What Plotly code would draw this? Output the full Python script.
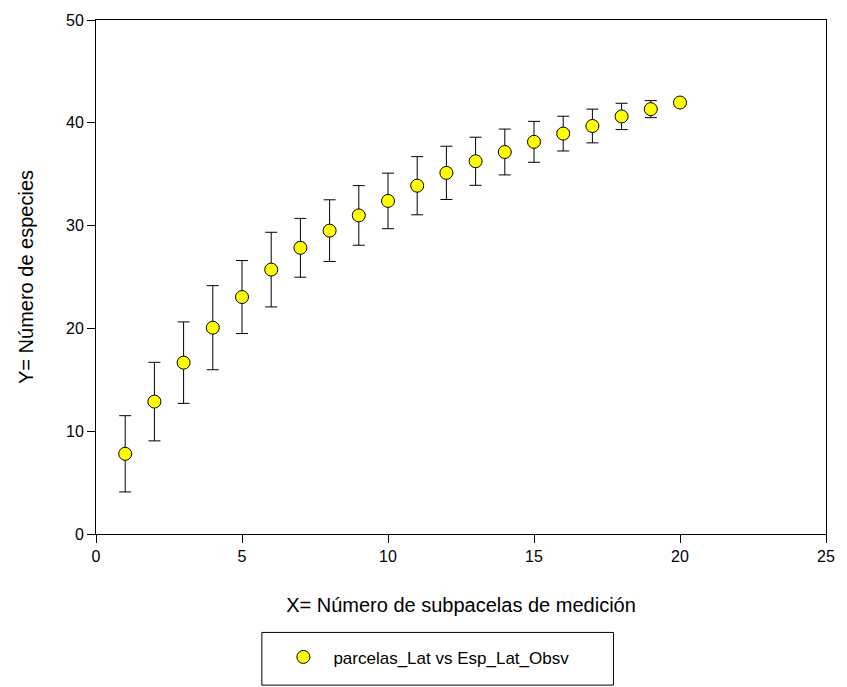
import plotly.graph_objects as go

x_vals = list(range(1, 21))
y_vals = [7.8, 12.88, 16.67, 20.07, 23.05, 25.72, 27.84, 29.51, 30.99, 32.40,
          33.88, 35.13, 36.26, 37.16, 38.15, 38.95, 39.69, 40.62, 41.33, 41.97]
y_err = [3.71, 3.82, 3.96, 4.09, 3.55, 3.63, 2.86, 3.0, 2.90, 2.70,
         2.83, 2.59, 2.34, 2.23, 1.99, 1.69, 1.64, 1.28, 0.83, 0.0]
series_name = "parcelas_Lat vs Esp_Lat_Obsv"
x_title = "X= Número de subpacelas de medición"
y_title = "Y= Número de especies"

FONT = "Liberation Sans, Arial, sans-serif"

fig = go.Figure()
fig.add_trace(go.Scatter(
    x=x_vals, y=y_vals, mode="markers", name=series_name,
    marker=dict(size=13, color="#FFFF00", line=dict(color="#000000", width=1)),
    error_y=dict(type="data", array=y_err, visible=True, color="#000000",
                 thickness=1, width=6),
))

axis_common = dict(
    showline=True, linecolor="#000000", linewidth=1, mirror=True,
    ticks="outside", ticklen=8, tickcolor="#000000", tickwidth=1,
    showgrid=False, zeroline=False,
    tickfont=dict(family=FONT, size=16, color="#000000"),
)

PW, PH = 735, 517

fig.update_layout(
    width=847, height=687,
    margin=dict(l=96, r=16, t=17, b=153),
    paper_bgcolor="white", plot_bgcolor="white",
    font=dict(family=FONT, color="#000000"),
    xaxis=dict(range=[0, 25], tickvals=[0, 5, 10, 15, 20, 25],
               title=dict(text=x_title, font=dict(family=FONT, size=20), standoff=33),
               **axis_common),
    yaxis=dict(range=[0, 50], tickvals=[0, 10, 20, 30, 40, 50],
               title=dict(text=y_title, font=dict(family=FONT, size=20), standoff=27),
               **axis_common),
    showlegend=True,
    legend=dict(x=0.243, y=-0.24, xanchor="left", yanchor="middle",
                bgcolor="rgba(0,0,0,0)", borderwidth=0, itemwidth=50,
                font=dict(family=FONT, size=17, color="#000000")),
    shapes=[dict(type="rect", xref="paper", yref="paper",
                 x0=(263 - 96) / PW, x1=(617 - 96) / PW,
                 y0=(534 - 686) / PH, y1=(534 - 633) / PH,
                 line=dict(color="#000000", width=1), fillcolor="rgba(0,0,0,0)")],
)

fig.write_html("out.html")
